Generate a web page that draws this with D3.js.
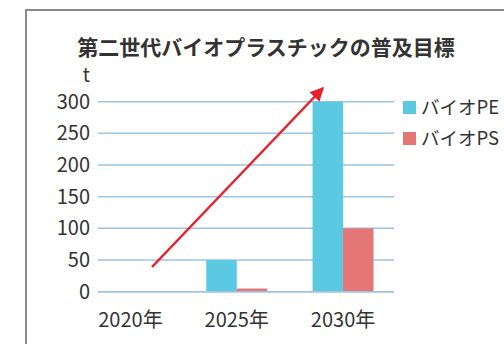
<!DOCTYPE html>
<html lang="ja">
<head>
  <meta charset="UTF-8" />
  <title>第二世代バイオプラスチックの普及目標</title>
  <script src="https://d3js.org/d3.v7.min.js"></script>
  <style>
    body {
      margin: 0;
      background: #fff;
      font-family: "Noto Sans CJK JP", "Noto Sans", sans-serif;
    }
    svg { display: block; }
  </style>
</head>
<body>
  <svg id="chart"></svg>

  <script>
    // chart data
    const categories = ["2020年", "2025年", "2030年"];
    const seriesNames = ["バイオPE", "バイオPS"];
    const pe = [0, 50, 300];
    const ps = [0, 5, 100];
    const yTicks = [0, 50, 100, 150, 200, 250, 300];
    const colors = ["#5bc9e2", "#e57676"];

    const W = 504, H = 344;
    const svg = d3.select("#chart").attr("width", W).attr("height", H);

    // frame
    svg.append("rect")
      .attr("x", 26).attr("y", 10)
      .attr("width", 500).attr("height", 360)
      .attr("fill", "none")
      .attr("stroke", "#8a8a8a")
      .attr("stroke-width", 2);

    svg.append("text")
      .attr("x", 266).attr("y", 55)
      .attr("text-anchor", "middle")
      .attr("font-size", "21px")
      .attr("font-weight", "bold")
      .attr("fill", "#333")
      .text("第二世代バイオプラスチックの普及目標");

    const y = d3.scaleLinear().domain([0, 300]).range([291.7, 101.7]);
    const x = d3.scaleBand().domain(categories).range([77.3, 396.2])
      .paddingInner(0.426).paddingOuter(0.213);
    const xs = d3.scaleBand().domain(seriesNames).range([0, x.bandwidth()]);

    // gridlines
    svg.append("g")
      .selectAll("line")
      .data(yTicks)
      .join("line")
      .attr("x1", 98).attr("x2", 394)
      .attr("y1", d => y(d)).attr("y2", d => y(d))
      .attr("stroke", "#9dc3e6")
      .attr("stroke-width", 1.5);

    // y labels
    svg.append("g")
      .selectAll("text")
      .data(yTicks)
      .join("text")
      .attr("x", 90)
      .attr("y", d => y(d))
      .attr("dy", "0.35em")
      .attr("text-anchor", "end")
      .attr("font-size", "20px")
      .attr("fill", "#333")
      .text(d => d);

    svg.append("text")
      .attr("x", 90).attr("y", 82)
      .attr("text-anchor", "end")
      .attr("font-size", "19px")
      .attr("fill", "#333")
      .text("t");

    // bars
    const rows = categories.map((c, i) => ({ cat: c, vals: [pe[i], ps[i]] }));
    const groups = svg.append("g")
      .selectAll("g")
      .data(rows)
      .join("g")
      .attr("transform", d => `translate(${x(d.cat)},0)`);

    groups.selectAll("rect")
      .data(d => d.vals.map((v, j) => ({ name: seriesNames[j], v, j })))
      .join("rect")
      .attr("x", d => xs(d.name))
      .attr("y", d => y(d.v))
      .attr("width", xs.bandwidth())
      .attr("height", d => y(0) - y(d.v))
      .attr("fill", d => colors[d.j]);

    // baseline on top
    svg.append("line")
      .attr("x1", 98).attr("x2", 394)
      .attr("y1", y(0)).attr("y2", y(0))
      .attr("stroke", "#9dc3e6")
      .attr("stroke-width", 1.5);

    // category labels
    svg.append("g")
      .selectAll("text")
      .data(categories)
      .join("text")
      .attr("x", d => x(d) + x.bandwidth() / 2)
      .attr("y", 327)
      .attr("text-anchor", "middle")
      .attr("font-size", "20px")
      .attr("fill", "#333")
      .text(d => d);

    // legend
    const legend = svg.append("g")
      .selectAll("g")
      .data(seriesNames)
      .join("g")
      .attr("transform", (d, i) => `translate(403,${101 + i * 31})`);

    legend.append("rect")
      .attr("width", 13).attr("height", 13)
      .attr("fill", (d, i) => colors[i]);

    legend.append("text")
      .attr("x", 18).attr("y", 13)
      .attr("font-size", "18.5px")
      .attr("fill", "#333")
      .text(d => d);

    // trend arrow
    svg.append("defs").append("marker")
      .attr("id", "head")
      .attr("viewBox", "0 0 10 10")
      .attr("refX", 9).attr("refY", 5)
      .attr("markerWidth", 5.5).attr("markerHeight", 5.5)
      .attr("markerUnits", "strokeWidth")
      .attr("orient", "auto")
      .append("path")
      .attr("d", "M0,0 L10,5 L0,10 z")
      .attr("fill", "#e8202a");

    svg.append("line")
      .attr("x1", 152).attr("y1", 267)
      .attr("x2", 323).attr("y2", 88)
      .attr("stroke", "#e8202a")
      .attr("stroke-width", 2.5)
      .attr("marker-end", "url(#head)");
  </script>
</body>
</html>
